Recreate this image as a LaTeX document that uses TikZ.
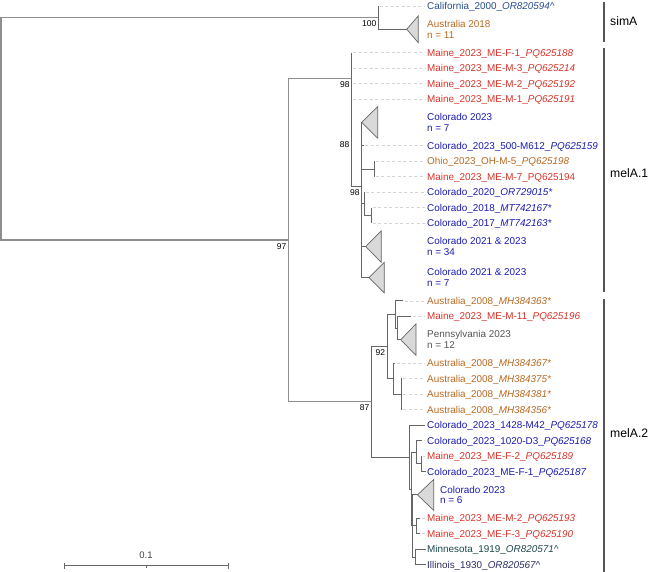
\documentclass[tikz,border=0pt]{standalone}
\usepackage{fontspec}
\setmainfont{Liberation Sans}
\definecolor{brc}{HTML}{666666}
\definecolor{rtc}{HTML}{8E8E8E}
\definecolor{ldc}{HTML}{D6D6D6}
\definecolor{tric}{HTML}{D9D9D9}
\definecolor{barc}{HTML}{555555}
\definecolor{cme}{RGB}{214,52,42}
\definecolor{cco}{RGB}{28,28,178}
\definecolor{cau}{RGB}{184,106,36}
\definecolor{cca}{RGB}{40,78,140}
\definecolor{cpa}{RGB}{85,85,85}
\definecolor{cmn}{RGB}{30,72,78}
\definecolor{cil}{RGB}{45,45,100}
\tikzset{
  br/.style={draw=brc, line width=0.9pt},
  rt/.style={draw=rtc, line width=1.2pt},
  lead/.style={draw=ldc, line width=0.6pt, dash pattern=on 3pt off 2.5pt},
  lab/.style={anchor=base west, inner sep=0pt, font=\fontsize{9.9}{11}\selectfont},
  bs/.style={anchor=east, inner sep=0pt, font=\fontsize{8.5}{9}\selectfont},
  tri/.style={draw=brc, fill=tric, line width=0.7pt, line join=miter},
  clade/.style={anchor=west, inner sep=0pt, font=\fontsize{12.2}{14}\selectfont},
  bar/.style={draw=barc, line width=1.4pt}
}
% leaf: name, tip x, row y, colour, text, parent
\newcommand\tleaf[6]{%
  \coordinate (t#1) at (#2,#3);
  \node[lab,text=#4] (#1) at (427,#3+3.55) {#5};
  \draw[br] (#6) |- (t#1);
  \ifdim #2pt<423pt \draw[lead] ([xshift=1.5pt]t#1) -- (le |- t#1);\fi}
\begin{document}
\begin{tikzpicture}[x=1pt,y=-1pt]
\fill[white] (0,0) rectangle (650,572);
\useasboundingbox (0,0) rectangle (650,572);

% internal nodes
\coordinate (root) at (1,128.84);
\coordinate (sim) at (378,17.64);
\coordinate (n97) at (288.3,240.03);
\coordinate (mel1) at (351.7,78.3);
\coordinate (Q) at (361.7,186);
\coordinate (R) at (374.3,168.96);
\coordinate (T) at (364.3,203.88);
\coordinate (S) at (371,215.52);
\coordinate (mel2) at (371,401.76);
\coordinate (A) at (387.3,346.47);
\coordinate (B) at (395.7,314.46);
\coordinate (C) at (397.7,328.04);
\coordinate (D) at (393.3,378.48);
\coordinate (E) at (401.7,394);
\coordinate (F) at (409.5,457.05);
\coordinate (F1) at (411,489.06);
\coordinate (G) at (416,452.2);
\coordinate (H) at (421.7,463.84);
\coordinate (F2) at (412.5,525.92);
\coordinate (I) at (416,525.92);
\coordinate (J) at (415,556.96);
\coordinate (le) at (425,0);

% internal edges
\draw[rt] (root) |- (sim);
\draw[rt] (root) |- (n97);
\draw[rt] (n97) |- (mel1);
\draw[rt] (n97) |- (mel2);
\draw[br] (mel1) |- (Q);
\draw[br] (Q) |- (R);
\draw[br] (Q) |- (T);
\draw[br] (T) |- (S);
\draw[br] (mel2) |- (A);
\draw[br] (mel2) |- (F);
\draw[br] (A) |- (B);
\draw[br] (A) |- (D);
\draw[br] (B) |- (C);
\draw[br] (D) |- (E);
\draw[br] (F) |- (F1);
\draw[br] (F1) |- (G);
\draw[br] (F1) |- (F2);
\draw[br] (G) |- (H);
\draw[br] (F2) |- (I);
\draw[br] (F2) |- (J);

% collapsed clades
\coordinate (aus) at (406.7,29.28);
\draw[br] (sim) |- (aus);
\draw[tri] (aus) -- ++(11.6,-13.4) -- ++(0,26.8) -- cycle;
\node[lab,text=cau] (ausa) at (427,29.28-1.7) {Australia 2018};
\node[lab,text=cau] (ausb) at (427,29.28+8.8) {n = 11};

\coordinate (col8) at (361.7,122.4);
\draw[br] (Q) |- (col8);
\draw[tri] (col8) -- ++(16,-15.8) -- ++(0,31.6) -- cycle;
\node[lab,text=cco] (col8a) at (427,122.4-1.7) {Colorado 2023};
\node[lab,text=cco] (col8b) at (427,122.4+8.8) {n = 7};

\coordinate (t34) at (365.7,246.56);
\draw[br] (Q) |- (t34);
\draw[tri] (t34) -- ++(15.6,-15.8) -- ++(0,31.6) -- cycle;
\node[lab,text=cco] (t34a) at (427,246.56-1.7) {Colorado 2021 \& 2023};
\node[lab,text=cco] (t34b) at (427,246.56+8.8) {n = 34};

\coordinate (t7) at (369,277.6);
\draw[br] (Q) |- (t7);
\draw[tri] (t7) -- ++(15.3,-15.3) -- ++(0,30.6) -- cycle;
\node[lab,text=cco] (t7a) at (427,277.6-1.7) {Colorado 2021 \& 2023};
\node[lab,text=cco] (t7b) at (427,277.6+8.8) {n = 7};

\coordinate (penn) at (400.7,339.68);
\draw[br] (C) |- (penn);
\draw[tri] (penn) -- ++(15.3,-15.8) -- ++(0,31.6) -- cycle;
\node[lab,text=cpa] (penna) at (427,339.68-1.7) {Pennsylvania 2023};
\node[lab,text=cpa] (pennb) at (427,339.68+8.8) {n = 12};

\coordinate (t6) at (417.5,494.88);
\draw[br] (F2) |- (t6);
\draw[tri] (t6) -- ++(16.2,-15.5) -- ++(0,31) -- cycle;
\node[lab,text=cco] (t6a) at (440,494.88-1.7) {Colorado 2023};
\node[lab,text=cco] (t6b) at (440,494.88+8.8) {n = 6};

% leaves
\tleaf{cal}{378}{6}{cca}{California\_2000\_\textit{OR820594\textasciicircum}}{sim}
\tleaf{mfa}{351.7}{52.56}{cme}{Maine\_2023\_ME-F-1\_\textit{PQ625188}}{mel1}
\tleaf{mmc}{351.7}{68.08}{cme}{Maine\_2023\_ME-M-3\_\textit{PQ625214}}{mel1}
\tleaf{mmb}{351.7}{83.60}{cme}{Maine\_2023\_ME-M-2\_\textit{PQ625192}}{mel1}
\tleaf{mma}{351.7}{99.12}{cme}{Maine\_2023\_ME-M-1\_\textit{PQ625191}}{mel1}
\tleaf{cfive}{363.7}{145.68}{cco}{Colorado\_2023\_500-M612\_\textit{PQ625159}}{Q}
\tleaf{ohio}{374.3}{161.2}{cau}{Ohio\_2023\_OH-M-5\_\textit{PQ625198}}{R}
\tleaf{mmg}{374.3}{176.72}{cme}{Maine\_2023\_ME-M-7\_PQ625194}{R}
\tleaf{ctw}{364.3}{192.24}{cco}{Colorado\_2020\_\textit{OR729015*}}{T}
\tleaf{cei}{371}{207.76}{cco}{Colorado\_2018\_\textit{MT742167*}}{S}
\tleaf{cse}{371}{223.28}{cco}{Colorado\_2017\_\textit{MT742163*}}{S}
\tleaf{asa}{403.3}{300.88}{cau}{Australia\_2008\_\textit{MH384363*}}{B}
\tleaf{mmk}{411}{316.4}{cme}{Maine\_2023\_ME-M-11\_\textit{PQ625196}}{C}
\tleaf{asb}{395}{362.96}{cau}{Australia\_2008\_\textit{MH384367*}}{D}
\tleaf{asc}{401.7}{378.48}{cau}{Australia\_2008\_\textit{MH384375*}}{E}
\tleaf{asd}{401.7}{394.0}{cau}{Australia\_2008\_\textit{MH384381*}}{E}
\tleaf{ase}{401.7}{409.52}{cau}{Australia\_2008\_\textit{MH384356*}}{E}
\tleaf{cfa}{425}{425.04}{cco}{Colorado\_2023\_1428-M42\_\textit{PQ625178}}{F}
\tleaf{cfb}{422}{440.56}{cco}{Colorado\_2023\_1020-D3\_\textit{PQ625168}}{G}
\tleaf{mfb}{421.7}{456.08}{cme}{Maine\_2023\_ME-F-2\_\textit{PQ625189}}{H}
\tleaf{cfc}{425.5}{471.6}{cco}{Colorado\_2023\_ME-F-1\_\textit{PQ625187}}{H}
\tleaf{mmx}{420}{518.16}{cme}{Maine\_2023\_ME-M-2\_\textit{PQ625193}}{I}
\tleaf{mfc}{420}{533.68}{cme}{Maine\_2023\_ME-F-3\_\textit{PQ625190}}{I}
\tleaf{mn}{426}{549.2}{cmn}{Minnesota\_1919\_\textit{OR820571\textasciicircum}}{J}
\tleaf{il}{426}{564.72}{cil}{Illinois\_1930\_\textit{OR820567\textasciicircum}}{J}

% support values
\node[bs] (bA) at ([shift={(-1.5,5.8)}]sim) {100};
\node[bs] (bB) at ([shift={(-2,6.5)}]mel1) {98};
\node[bs] (bC) at (349.5,145) {88};
\node[bs] (bD) at ([shift={(-2,6.5)}]Q) {98};
\node[bs] (bE) at ([shift={(-1.7,6.8)}]n97) {97};
\node[bs] (bF) at ([shift={(-2,6.3)}]A) {92};
\node[bs] (bG) at ([shift={(-1.5,5.5)}]mel2) {87};

% clade bars
\draw[bar] (604,2) -- (604,42);
\draw[bar] (604,48) -- (604,292);
\draw[bar] (604,299) -- (604,572);
\node[clade] (csim) at (610,20.7) {simA};
\node[clade] (cma) at (610,173) {melA.1};
\node[clade] (cmb) at (610,433) {melA.2};

% scale bar
\coordinate (sa) at (64,565.7);
\coordinate (sb) at (228,565.7);
\draw[br,line width=0.8pt] (sa) -- (sb);
\draw[br,line width=0.8pt] ([yshift=-3pt]sa) -- ([yshift=3pt]sa);
\draw[br,line width=0.8pt] ([yshift=-3pt]sb) -- ([yshift=3pt]sb);
\draw[br,line width=0.6pt] (146,565.7) -- (146,567.5);
\node[inner sep=0pt, font=\fontsize{9.5}{10}\selectfont, text=black!75] (sl) at (146,555) {0.1};
\end{tikzpicture}
\end{document}
